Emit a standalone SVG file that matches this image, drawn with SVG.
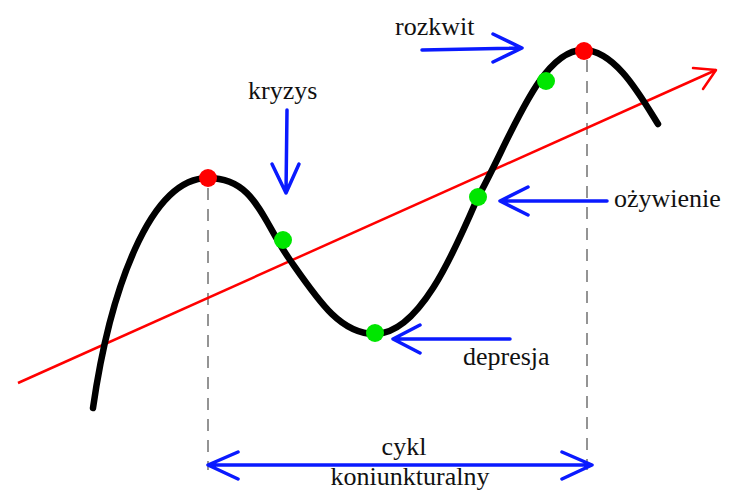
<svg xmlns="http://www.w3.org/2000/svg" width="730" height="494" viewBox="0 0 730 494">
<style>
.lbl{font-family:"Liberation Serif","Times New Roman",serif;font-size:26px;fill:#111}
.blue{stroke:#0a1aff;stroke-width:3.5;fill:none;stroke-linecap:round;stroke-linejoin:round}
.dash{stroke:#7a7a7a;stroke-width:1.6;stroke-dasharray:12 9;fill:none}
.red{fill:#ff0000}
.green{fill:#00e600}
</style>
<g id="guides">
<line class="dash" x1="208" y1="188" x2="208" y2="470"/>
<line class="dash" x1="587" y1="60" x2="587" y2="470"/>
</g>
<g id="connectors">
<path id="trend" d="M18,383 L716,70" stroke="#ff0000" stroke-width="2.5" fill="none"/>
<path d="M716,70 L693,68 M716,70 L703,89" stroke="#ff0000" stroke-width="2.5" fill="none" stroke-linecap="round"/>
<path id="cycle" d="M93,408 C110,290 150,178 208,178 C255,178 262,220 290,260 C318,300 340,334 375,334 C420,334 455,250 478,197 C510,140 540,50 583,50 C615,50 640,95 658,124" stroke="#000" stroke-width="6.5" fill="none" stroke-linecap="round"/>
<path class="blue" d="M422,50 L522,48 M493,34 L522,48 L493,62"/>
<path class="blue" d="M287,110 L286,193 M272,164 L286,193 L299,164"/>
<path class="blue" d="M607,201 L500,201 M528,187 L500,201 L528,215"/>
<path class="blue" d="M510,339 L393,339 M420,325 L393,339 L420,353"/>
<path class="blue" d="M208,465 L592,465 M238,452 L208,465 L238,479 M562,452 L592,465 L562,479"/>
</g>
<g id="points">
<circle class="red" cx="208" cy="178" r="9"/>
<circle class="red" cx="584" cy="51" r="9"/>
<circle class="green" cx="283" cy="240" r="9"/>
<circle class="green" cx="375" cy="333" r="9"/>
<circle class="green" cx="478" cy="197" r="9"/>
<circle class="green" cx="546" cy="81" r="9"/>
</g>
<g id="labels">
<text class="lbl" x="395" y="35">rozkwit</text>
<text class="lbl" x="248" y="99">kryzys</text>
<text class="lbl" x="614" y="207">ożywienie</text>
<text class="lbl" x="463" y="365">depresja</text>
<text class="lbl" x="404" y="455" text-anchor="middle">cykl</text>
<text class="lbl" x="410" y="485" text-anchor="middle">koniunkturalny</text>
</g>
</svg>
